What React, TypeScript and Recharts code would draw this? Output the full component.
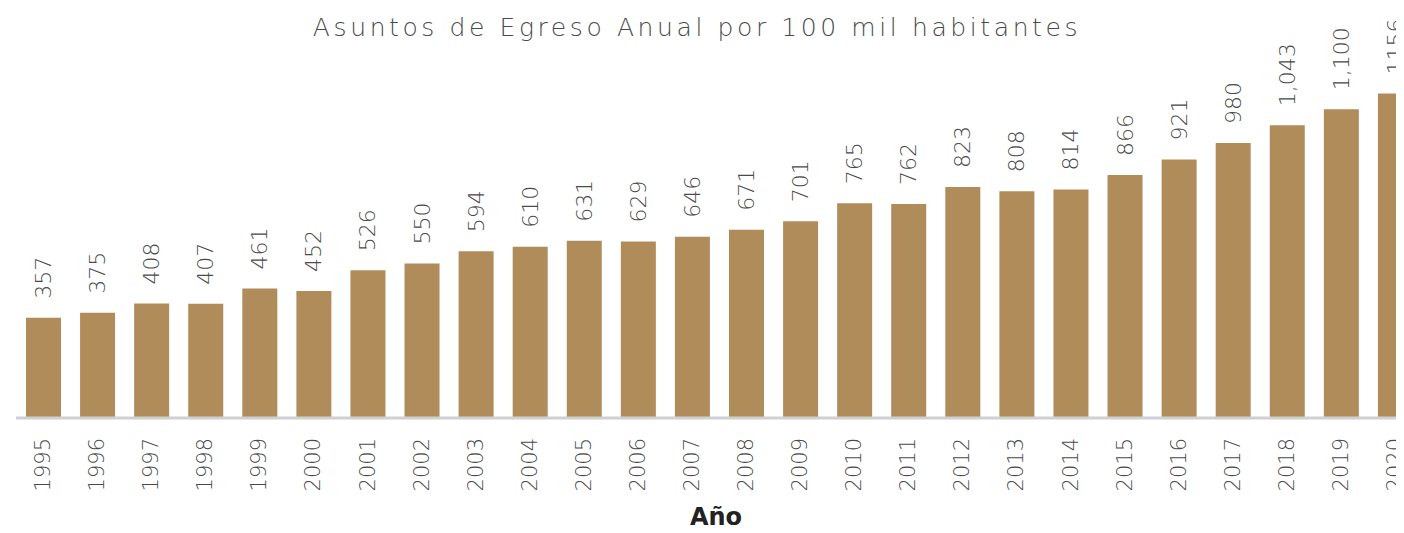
import React from 'react';
import { BarChart, Bar, XAxis, YAxis, LabelList } from 'recharts';

const years = ['1995','1996','1997','1998','1999','2000','2001','2002','2003','2004','2005','2006','2007','2008','2009','2010','2011','2012','2013','2014','2015','2016','2017','2018','2019','2020'];
const values = [357,375,408,407,461,452,526,550,594,610,631,629,646,671,701,765,762,823,808,814,866,921,980,1043,1100,1156];
const valueLabels = ['357','375','408','407','461','452','526','550','594','610','631','629','646','671','701','765','762','823','808','814','866','921','980','1,043','1,100','1156'];

const data = years.map((y, i) => ({ year: y, value: values[i], label: valueLabels[i] }));

const FONT = '"DejaVu Sans", sans-serif';
const TEXT = '#4a4a4a';

const YearTick = (props: any) => {
  const { x, y, payload } = props;
  return (
    <text
      transform={`translate(${x},${y + 12}) rotate(-90)`}
      textAnchor="end"
      dominantBaseline="central"
      fontFamily={FONT}
      fontSize={21}
      fontWeight={300}
      fill={TEXT}
    >
      {payload.value}
    </text>
  );
};

const ValueLabel = (props: any) => {
  const { x, y, width, value } = props;
  const cx = Number(x) + Number(width) / 2;
  return (
    <text
      transform={`translate(${cx},${Number(y) - 19}) rotate(-90)`}
      textAnchor="start"
      dominantBaseline="central"
      fontFamily={FONT}
      fontSize={22}
      fontWeight={300}
      fill={TEXT}
    >
      {value}
    </text>
  );
};

export default function App() {
  return (
    <div style={{ position: 'relative', width: 1396, height: 525, overflow: 'hidden', background: '#fff' }}>
      <BarChart
        width={1420}
        height={525}
        data={data}
        margin={{ top: 17, right: 6, bottom: 30, left: 8 }}
        barCategoryGap="35%"
      >
        <YAxis hide domain={[0, 1400]} />
        <XAxis
          dataKey="year"
          interval={0}
          tickLine={false}
          axisLine={{ stroke: '#cfd0d2', strokeWidth: 3 }}
          tick={<YearTick />}
          height={85}
          label={{ value: 'Año', position: 'insideBottom', offset: -22, fontFamily: FONT, fontSize: 24, fontWeight: 700, fill: '#222', dx: -3 }}
        />
        <Bar dataKey="value" fill="#B08C5A" barSize={35} isAnimationActive={false}>
          <LabelList dataKey="label" content={<ValueLabel />} />
        </Bar>
      </BarChart>
      <div
        style={{
          position: 'absolute',
          top: 5,
          left: 0,
          width: 1378,
          textAlign: 'center',
          fontFamily: FONT,
          fontSize: 25,
          fontWeight: 300,
          color: TEXT,
          letterSpacing: 3.6,
          whiteSpace: 'nowrap',
        }}
      >
        Asuntos de Egreso Anual por 100 mil habitantes
      </div>
    </div>
  );
}
